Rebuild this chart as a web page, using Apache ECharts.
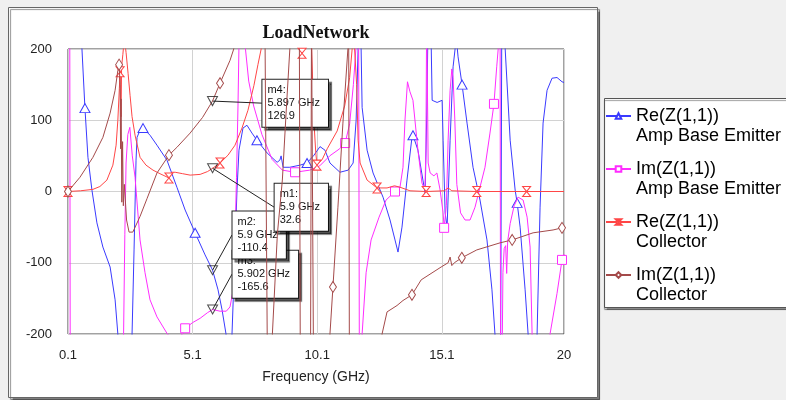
<!DOCTYPE html>
<html><head><meta charset="utf-8">
<script src="https://cdn.jsdelivr.net/npm/echarts@6/dist/echarts.min.js"></script>
<style>html,body{margin:0;padding:0;background:#f0f0f0}#c{width:786px;height:400px}</style>
</head><body><div id="c"></div>
<script>
const titleText = 'LoadNetwork';
const xAxisName = 'Frequency (GHz)';
const seriesNames = ['Re(Z(1,1))\nAmp Base Emitter', 'Im(Z(1,1))\nAmp Base Emitter', 'Re(Z(1,1))\nCollector', 'Im(Z(1,1))\nCollector'];

// [frequency GHz, ohms]
const reAmp = [[0.1,400],[0.5,260],[0.66,200],[0.78,117],[0.9,48],[1.06,2],[1.26,-44],[1.5,-78],[1.79,-106],[1.99,-152],[2.1,-200],[2.2,-300],[2.6,-300],[2.67,-200],[2.75,-82],[2.83,44],[2.87,76],[2.99,86],[3.11,89],[3.39,79],[3.67,65],[4.07,44],[4.47,6],[4.8,-26],[5.2,-58],[5.6,-89],[5.9,-110.4],[6.12,-138],[6.28,-166],[6.44,-200],[6.5,-300],[6.6,-300],[6.68,-200],[6.8,-82],[6.88,2],[6.96,58],[7.12,89],[7.28,93],[7.48,82],[7.68,72],[8.09,54],[8.49,41],[8.6,44],[8.65,50],[8.73,34],[9.0,34],[9.41,37],[9.69,40],[9.97,51],[10.21,63],[10.41,58],[10.61,40],[11.01,27],[11.34,30],[11.54,40],[11.66,100],[11.74,200],[11.8,260],[11.86,200],[11.9,118],[12.1,58],[12.34,26],[12.74,-8],[13.02,-40],[13.22,-68],[13.34,-85],[13.5,-50],[13.7,16],[13.9,76],[13.94,79],[14.14,58],[14.34,16],[14.43,-2],[14.5,120],[14.55,250],[14.65,250],[14.71,128],[14.91,125],[15.11,128],[15.15,72],[15.23,-30],[15.31,-50],[15.43,72],[15.55,175],[15.63,200],[15.68,215],[15.75,189],[15.91,150],[16.11,96],[16.35,34],[16.63,-12],[16.91,-68],[17.11,-138],[17.23,-200],[17.3,-300],[17.42,-300],[17.46,-200],[17.5,200],[17.54,300],[17.6,230],[17.64,200],[17.84,72],[18.04,2],[18.12,-16],[18.24,-50],[18.44,-138],[18.56,-200],[18.62,-300],[18.86,-300],[18.92,-200],[19.04,-22],[19.16,96],[19.32,142],[19.52,159],[19.72,160],[19.92,154],[20,153]];
const imAmp = [[0.1,400],[0.17,250],[0.19,-250],[0.25,-400],[2.25,-400],[2.33,-200],[2.38,-60],[2.43,40],[2.5,80],[2.58,90],[2.68,50],[2.79,20],[2.99,-68],[3.19,-114],[3.39,-152],[3.67,-176],[4.07,-199],[4.4,-212],[4.6,-205],[4.8,-192],[5.1,-184],[5.4,-178],[5.7,-170],[5.902,-165.6],[6.2,-168],[6.45,-168],[6.6,-162],[6.72,-140],[6.8,-68],[6.86,20],[6.92,120],[6.98,250],[7.05,400],[7.15,300],[7.22,200],[7.35,155],[7.55,120],[7.88,80],[8.29,45],[8.7,30],[9.21,27],[9.8,30],[10.2,36],[10.6,50],[11.0,60],[11.22,68],[11.4,95],[11.55,150],[11.65,200],[11.7,300],[11.75,400],[11.8,-400],[11.85,-300],[11.9,-200],[12.06,-114],[12.26,-68],[12.58,-36],[12.86,-12],[13.22,0],[13.42,6],[13.54,34],[13.62,100],[13.72,154],[13.82,140],[13.94,128],[14.14,58],[14.3,12],[14.42,2],[14.46,60],[14.49,250],[14.52,250],[14.55,40],[14.63,26],[14.78,22],[14.9,26],[15.03,2],[15.15,-30],[15.19,-51],[15.28,-20],[15.35,72],[15.43,142],[15.5,172],[15.55,160],[15.62,100],[15.7,10],[15.85,-30],[16.03,-40],[16.23,-40],[16.43,-22],[16.63,6],[16.83,34],[17.03,82],[17.19,123],[17.3,175],[17.36,200],[17.4,300],[17.43,400],[17.46,-400],[17.5,-300],[17.55,-114],[17.6,-80],[17.66,-76],[17.7,-115],[17.74,-70],[17.84,-45],[18.0,-20],[18.16,-8],[18.36,-12],[18.52,-36],[18.64,-78],[18.72,-200],[18.8,-300],[19.35,-300],[19.44,-200],[19.72,-143],[19.92,-96],[20,-88]];
const reCol = [[0.1,0],[0.6,1],[1.1,3],[1.38,7],[1.66,16],[1.9,37],[2.03,65],[2.1,100],[2.16,145],[2.19,168],[2.21,120],[2.23,105],[2.25,175],[2.3,192],[2.36,215],[2.43,195],[2.51,166],[2.59,135],[2.67,105],[2.79,79],[2.99,48],[3.23,37],[3.51,30],[3.79,25],[4.15,19],[4.25,27],[4.4,27],[4.7,25],[5.0,23],[5.4,24],[5.7,28],[5.9,32.6],[6.2,40],[6.52,51],[6.8,65],[7.08,89],[7.32,114],[7.56,149],[7.72,178],[7.85,200],[7.95,230],[9.3,230],[9.49,194],[9.68,230],[9.85,230],[9.92,150],[9.98,90],[10.04,55],[10.09,37],[10.3,45],[10.5,60],[10.9,85],[11.2,120],[11.4,160],[11.5,200],[11.55,230],[11.62,230],[11.68,150],[11.74,72],[11.82,40],[12.1,16],[12.5,5],[12.9,5],[13.2,8],[13.42,6],[13.82,1],[14.47,0],[15.2,1],[15.35,5],[15.5,1],[16.5,0],[18.5,0],[20,0]];
const imCol = [[0.1,0],[0.58,20],[1.1,48],[1.5,76],[1.79,110],[1.99,142],[2.1,170],[2.15,178],[2.19,150],[2.21,60],[2.23,130],[2.26,-15],[2.29,70],[2.32,-20],[2.36,10],[2.45,-40],[2.55,-57],[2.7,-57],[2.99,-35],[3.27,-10],[3.67,26],[4.15,51],[4.47,62],[5.0,82],[5.5,104],[5.897,126.9],[6.2,152],[6.6,184],[6.75,200],[6.85,240],[8.0,240],[8.1,-240],[8.28,-240],[8.3,-200],[8.5,-60],[8.7,16],[8.85,110],[9.0,200],[9.05,240],[9.38,240],[9.42,-240],[9.83,-240],[9.87,240],[9.9,240],[9.95,-240],[10.55,-240],[10.61,-200],[10.73,-134],[10.93,-22],[11.13,96],[11.33,200],[11.36,240],[11.39,-240],[12.6,-240],[12.7,-200],[12.9,-169],[13.3,-160],[13.54,-153],[13.9,-145],[14.27,-124],[15.07,-106],[15.35,-100],[15.43,-92],[15.5,-104],[15.6,-100],[15.9,-93],[16.5,-82],[17.44,-72],[17.92,-68],[18.76,-58],[19.56,-54],[19.92,-51],[20,-50]];

// frequencies where each trace shows its marker symbol
const reAmpMarks = [0.78, 3.11, 5.2, 7.68, 9.69, 13.94, 15.91, 18.12];
const imAmpMarks = [4.8, 9.21, 11.22, 13.22, 15.19, 17.19, 19.92];
const reColMarks = [0.1, 2.19, 4.15, 6.2, 9.49, 10.09, 12.5, 14.47, 16.5, 18.5];
const imColMarks = [0.1, 2.15, 4.15, 6.2, 10.73, 13.9, 15.9, 17.92, 19.92];

// named markers (drawing order: m3, m2, m1, m4)
const markerNames = ['m3', 'm2', 'm1', 'm4'];
const markerX = [5.902, 5.9, 5.9, 5.897];
const markerY = [-165.6, -110.4, 32.6, 126.9];
// where each marker's readout box is anchored (data coords of its left-middle)
const boxAnchor = [[6.68, -116], [6.68, -61], [8.37, -22], [7.88, 124]];

const colors = ['#3a3aff', '#ff2cff', '#ff4646', '#a44a4a'];
const syms = ['triangle', 'rect', 'path://M0,0L10,0L0,12L10,12Z', 'diamond'];
const symSizes = [[10, 9], [9, 9], [8, 10], [7, 11]];
const traces = [reAmp, imAmp, reCol, imCol];
const traceMarks = [reAmpMarks, imAmpMarks, reColMarks, imColMarks];

const chart = echarts.init(document.getElementById('c'), null, {renderer: 'canvas'});
const font = 'Liberation Sans';

const series = traces.map((pts, i) => ({
  name: seriesNames[i],
  type: 'line',
  data: pts.map(p => traceMarks[i].includes(p[0]) ? {value: p} : {value: p, symbol: 'none'}),
  symbol: syms[i],
  symbolSize: symSizes[i],
  showSymbol: true,
  showAllSymbol: true,
  color: colors[i],
  lineStyle: {color: colors[i], width: 1},
  itemStyle: {color: '#fff', borderColor: colors[i], borderWidth: 1},
  emphasis: {disabled: true},
  animation: false,
  z: 2 + i
}));

series.push({
  name: 'markers',
  type: 'scatter',
  data: markerX.map((x, i) => [x, markerY[i]]),
  symbol: 'path://M0,0L10,0L5,9Z',
  symbolSize: [10, 9],
  itemStyle: {color: 'rgba(0,0,0,0)', borderColor: '#222', borderWidth: 1},
  emphasis: {disabled: true},
  silent: true,
  z: 10,
  animation: false,
  markLine: {
    silent: true,
    symbol: ['none', 'none'],
    animation: false,
    label: {show: false},
    lineStyle: {color: '#222', width: 1, type: 'solid'},
    data: markerX.map((x, i) => [{coord: [x, markerY[i]]}, {coord: boxAnchor[i]}])
  },
  markPoint: {
    silent: true,
    animation: false,
    symbol: 'rect',
    symbolSize: 1,
    itemStyle: {color: 'rgba(0,0,0,0)'},
    data: markerX.map((x, i) => ({
      coord: boxAnchor[i],
      label: {
        show: true,
        position: 'right',
        distance: 0,
        formatter: markerNames[i] + ':\n' + x + ' GHz\n' + markerY[i],
        fontFamily: font, fontSize: 11, lineHeight: 13, color: '#111', align: 'left',
        backgroundColor: '#fff', borderColor: '#222', borderWidth: 1,
        padding: [4, 8, 4, 5],
        shadowColor: 'rgba(0,0,0,0.6)', shadowOffsetX: 3, shadowOffsetY: 3, shadowBlur: 1
      }
    }))
  }
});

chart.setOption({
  backgroundColor: '#f0f0f0',
  animation: false,
  graphic: [
    {type: 'rect', z: -10, shape: {x: 8.5, y: 7.5, width: 589, height: 390},
     style: {fill: '#fff', stroke: '#666', lineWidth: 1, shadowColor: 'rgba(0,0,0,0.45)', shadowOffsetX: 2, shadowOffsetY: 2, shadowBlur: 1}},
    {type: 'rect', z: -10, shape: {x: 604.5, y: 98.5, width: 200, height: 209},
     style: {fill: '#fff', stroke: '#555', lineWidth: 1, shadowColor: 'rgba(0,0,0,0.4)', shadowOffsetX: 0, shadowOffsetY: 2, shadowBlur: 1}},
    {type: 'text', z: 10, x: 316, y: 33,
     style: {text: titleText, align: 'center', verticalAlign: 'middle', font: 'bold 18px "Liberation Serif"', fill: '#111'}}
  ],
  grid: {left: 68, top: 49, width: 496, height: 285, show: true, borderColor: '#444', borderWidth: 1, backgroundColor: '#fff'},
  legend: {
    orient: 'vertical', left: 605, top: 86, padding: 0,
    itemWidth: 25, itemHeight: 7, itemGap: -7,
    selectedMode: false,
    data: seriesNames,
    formatter: name => '\n' + name,
    textStyle: {fontFamily: font, fontSize: 18, lineHeight: 20, color: '#000'}
  },
  xAxis: {
    type: 'value', min: 0.1, max: 20, interval: 5,
    name: xAxisName, nameLocation: 'middle', nameGap: 36,
    nameTextStyle: {fontFamily: font, fontSize: 14, color: '#222'},
    axisLine: {show: false}, axisTick: {show: false},
    axisLabel: {fontFamily: font, fontSize: 13, color: '#222', margin: 15, formatter: v => String(+v.toFixed(1))},
    splitLine: {show: true, lineStyle: {color: '#d2d2d2', width: 1}}
  },
  yAxis: {
    type: 'value', min: -200, max: 200, interval: 100,
    axisLine: {show: false}, axisTick: {show: false},
    axisLabel: {fontFamily: font, fontSize: 13, color: '#222', margin: 16},
    splitLine: {show: true, lineStyle: {color: '#d2d2d2', width: 1}}
  },
  series: series
});
</script>
</body></html>
